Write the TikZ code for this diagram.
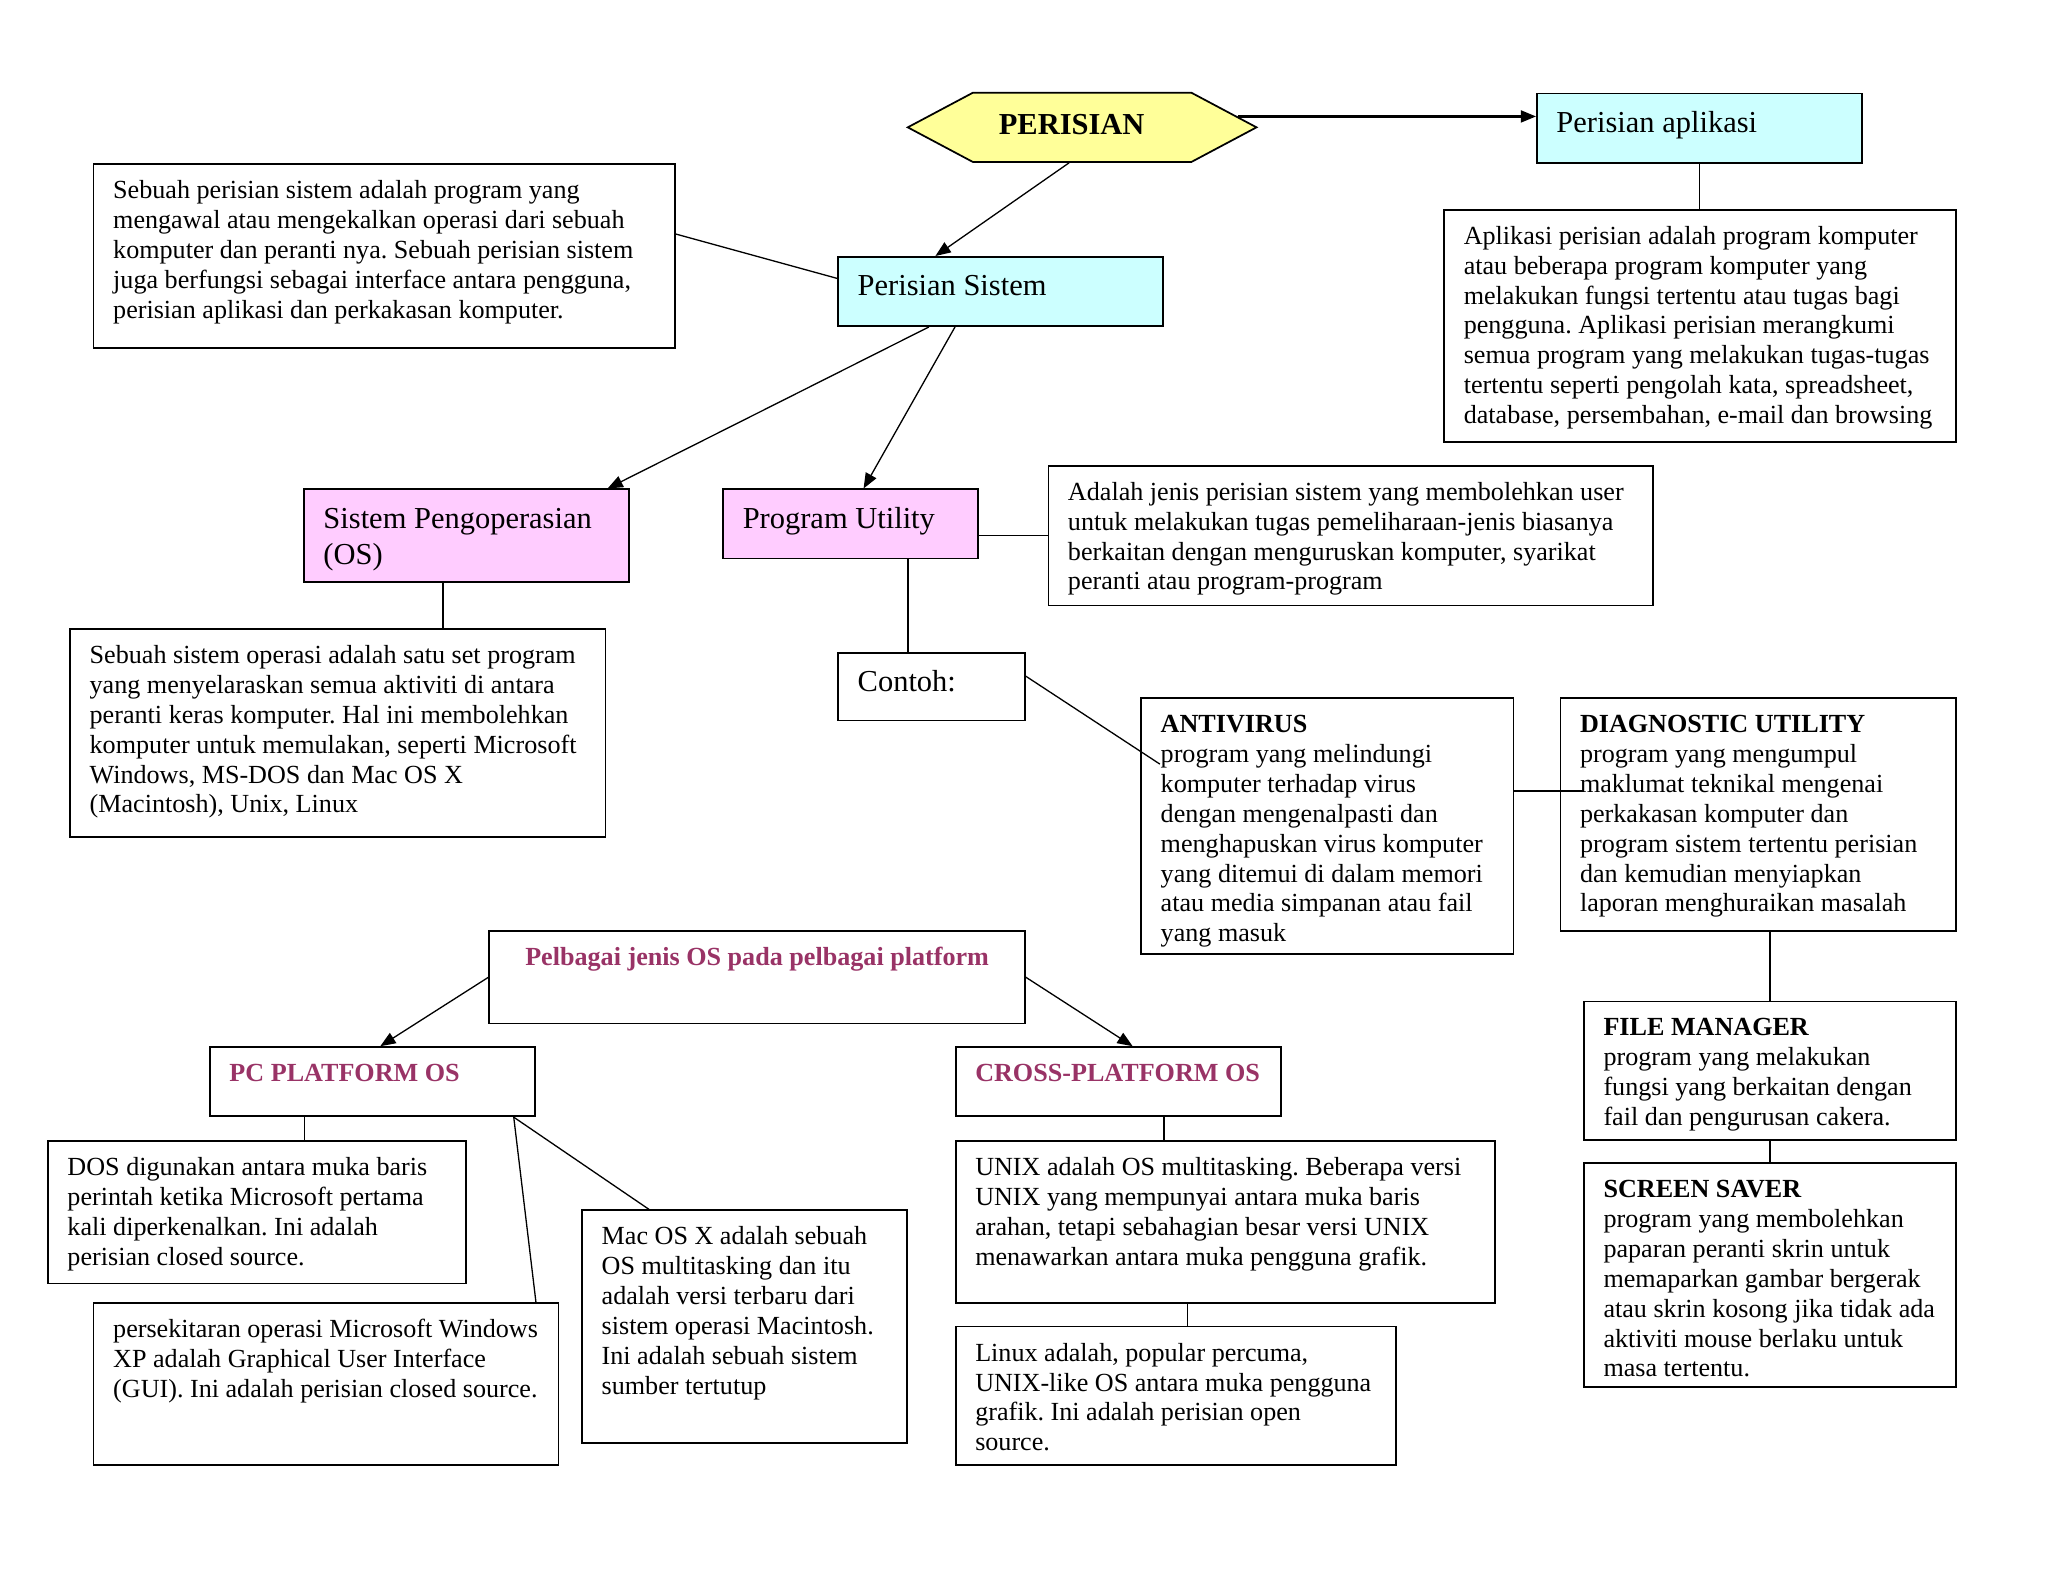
\documentclass[tikz,border=0pt]{standalone}
\usepackage{fontspec}
\setmainfont{Liberation Serif}
\usepackage{tikz}
\usetikzlibrary{shapes.symbols,arrows.meta,calc}
\frenchspacing
\definecolor{hexyellow}{HTML}{FFFF99}
\definecolor{boxcyan}{HTML}{CCFFFF}
\definecolor{boxpink}{HTML}{FFCCFF}
\definecolor{titlered}{HTML}{993366}
\newdimen\upx \upx=0.6pt
\newcommand{\boxtext}[3]{\parbox[c][\dimexpr#2\upx-12.6pt\relax][t]{#1\upx}{\raggedright\leftskip=9pt\relax\strut#3}}
\newcommand{\redtitle}[1]{\textcolor{titlered}{\textbf{#1}}}
\tikzset{
  tbox/.style = {draw=black, line width=0.8pt, anchor=north west, inner xsep=0pt, inner ysep=6.3pt, font=\fontsize{12}{13.7}\selectfont},
  bigbox/.style = {tbox, font=\fontsize{14}{16.5}\selectfont},
  sysbox/.style = {bigbox, fill=boxcyan},
  osbox/.style = {bigbox, fill=boxpink},
  hexnode/.style = {signal, signal to=east and west, signal pointer angle=56, draw=black, line width=0.8pt, fill=hexyellow, minimum width=160.2pt, minimum height=31.8pt, inner sep=0pt, font=\bfseries\fontsize{14}{16.5}\selectfont},
  link/.style = {draw, line width=0.6pt},
  arrow/.style = {link, -{Triangle[length=7pt,width=5.5pt]}},
}

\begin{document}
\begin{tikzpicture}[x=0.6pt, y=-0.6pt]
\useasboundingbox (0,0) rectangle (1568,1211);
% top part
\node [hexnode] (perisian) at (828.5,97.5) {\raisebox{2.4pt}{PERISIAN}\kern9.6pt};
\node [sysbox] (aplikasi) at (1176,71) {\boxtext{249}{53}{Perisian aplikasi}};
\node [sysbox] (sistem) at (641,196) {\boxtext{249}{53}{Perisian Sistem}};
\node [tbox] (sistemdesc) at (71,125) {\boxtext{445}{141}{Sebuah perisian sistem adalah program yang\\ mengawal atau mengekalkan operasi dari sebuah\\ komputer dan peranti nya. Sebuah perisian sistem\\ juga berfungsi sebagai interface antara pengguna,\\ perisian aplikasi dan perkakasan komputer.}};
\node [tbox] (aplikasidesc) at (1105,160) {\boxtext{392}{178}{Aplikasi perisian adalah program komputer\\ atau beberapa program komputer yang\\ melakukan fungsi tertentu atau tugas bagi\\ pengguna. Aplikasi perisian merangkumi\\ semua program yang melakukan tugas-tugas\\ tertentu seperti pengolah kata, spreadsheet,\\ database, persembahan, e-mail dan browsing}};
% middle part
\node [osbox] (os) at (232,374) {\boxtext{249}{71}{Sistem Pengoperasian\\ (OS)}};
\node [osbox] (utility) at (553,374) {\boxtext{195}{53}{Program Utility}};
\node [tbox] (utilitydesc) at (802,356) {\boxtext{463}{107}{Adalah jenis perisian sistem yang membolehkan user\\ untuk melakukan tugas pemeliharaan-jenis biasanya\\ berkaitan dengan menguruskan komputer, syarikat\\ peranti atau program-program}};
\node [tbox] (osdesc) at (53,481) {\boxtext{410}{159}{Sebuah sistem operasi adalah satu set program\\ yang menyelaraskan semua aktiviti di antara\\ peranti keras komputer. Hal ini membolehkan\\ komputer untuk memulakan, seperti Microsoft\\ Windows, MS-DOS dan Mac OS X\\ (Macintosh), Unix, Linux}};
\node [bigbox] (contoh) at (641,499) {\boxtext{143}{52}{Contoh:}};
\node [tbox] (antivirus) at (873,534) {\boxtext{285}{196}{\textbf{ANTIVIRUS}\\ program yang melindungi\\ komputer terhadap virus\\ dengan mengenalpasti dan\\ menghapuskan virus komputer\\ yang ditemui di dalam memori\\ atau media simpanan atau fail\\ yang masuk}};
\node [tbox] (diag) at (1194,534) {\boxtext{303}{178}{\textbf{DIAGNOSTIC UTILITY}\\ program yang mengumpul\\ maklumat teknikal mengenai\\ perkakasan komputer dan\\ program sistem tertentu perisian\\ dan kemudian menyiapkan\\ laporan menghuraikan masalah}};
\node [tbox] (filemgr) at (1212,766) {\boxtext{285}{106}{\textbf{FILE MANAGER}\\ program yang melakukan\\ fungsi yang berkaitan dengan\\ fail dan pengurusan cakera.}};
\node [tbox] (saver) at (1212,890) {\boxtext{285}{171}{\textbf{SCREEN SAVER}\\ program yang membolehkan\\ paparan peranti skrin untuk\\ memaparkan gambar bergerak\\ atau skrin kosong jika tidak ada\\ aktiviti mouse berlaku untuk\\ masa tertentu.}};
% bottom part
\node [tbox] (platform) at (374,712) {\boxtext{410}{71}{\centering\redtitle{Pelbagai jenis OS pada pelbagai platform}}};
\node [tbox] (pcos) at (160,801) {\boxtext{249}{53}{\redtitle{PC PLATFORM OS}}};
\node [tbox] (crossos) at (731,801) {\boxtext{249}{53}{\redtitle{CROSS-PLATFORM OS}}};
\node [tbox] (dos) at (36,873) {\boxtext{320}{109}{DOS digunakan antara muka baris\\ perintah ketika Microsoft pertama\\ kali diperkenalkan. Ini adalah\\ perisian closed source.}};
\node [tbox] (windows) at (71,997) {\boxtext{356}{124}{persekitaran operasi Microsoft Windows\\ XP adalah Graphical User Interface\\ (GUI). Ini adalah perisian closed source.}};
\node [tbox] (mac) at (445,926) {\boxtext{249}{178}{Mac OS X adalah sebuah\\ OS multitasking dan itu\\ adalah versi terbaru dari\\ sistem operasi Macintosh.\\ Ini adalah sebuah sistem\\ sumber tertutup}};
\node [tbox] (unix) at (731,873) {\boxtext{413}{124}{UNIX adalah OS multitasking. Beberapa versi\\ UNIX yang mempunyai antara muka baris\\ arahan, tetapi sebahagian besar versi UNIX\\ menawarkan antara muka pengguna grafik.}};
\node [tbox] (linux) at (731,1015) {\boxtext{337}{106}{Linux adalah, popular percuma,\\ UNIX-like OS antara muka pengguna\\ grafik. Ini adalah perisian open\\ source.}};
% connectors
\draw [arrow, line width=1pt] (perisian.4) -- (perisian.4 -| aplikasi.west);
\draw [arrow] ($(perisian.south)+(-10,0)$) -- ($(sistem.north)+(-50,0)$);
\draw [link] ($(sistemdesc.east)+(0,-17)$) -- ($(sistem.west)+(0,-10)$);
\draw [link] (aplikasi.south) -- (aplikasi.south |- aplikasidesc.north);
\draw [arrow] ($(sistem.south)+(-55,0)$) -- ($(os.north)+(108,0)$);
\draw [arrow] ($(sistem.south)+(-35,0)$) -- ($(utility.north)+(10,0)$);
\draw [link] ($(os.south)+(-18,0)$) coordinate (g1) -- (g1 |- osdesc.north);
\draw [link] ($(utility.east)+(0,9)$) coordinate (h1) -- (h1 -| utilitydesc.west);
\draw [link] ($(utility.south)+(44,0)$) coordinate (i1) -- (i1 |- contoh.north);
\draw [link] ($(contoh.east)+(0,-8)$) -- ($(antivirus.north west)+(15,51)$);
\draw [link, line width=0.8pt] ($(antivirus.east)+(0,-27)$) coordinate (k1) -- ($(k1 -| diag.west)+(19,0)$);
\draw [link] (filemgr.north) -- (filemgr.north |- diag.south);
\draw [link] (filemgr.south) -- (saver.north);
\draw [arrow] (platform.west) -- ($(pcos.north)+(6,0)$);
\draw [arrow] (platform.east) -- ($(crossos.north)+(11,0)$);
\draw [link] ($(pcos.south)+(-52,0)$) coordinate (p1) -- (p1 |- dos.north);
\draw [link] ($(pcos.south east)+(-17,0)$) -- ($(windows.north east)+(-18,0)$);
\draw [link] ($(pcos.south east)+(-17,0)$) -- ($(mac.north west)+(52,0)$);
\draw [link] ($(crossos.south)+(35,0)$) coordinate (s1) -- (s1 |- unix.north);
\draw [link] ($(unix.south)+(-29,0)$) coordinate (t1) -- (t1 |- linux.north);
\end{tikzpicture}
\end{document}
